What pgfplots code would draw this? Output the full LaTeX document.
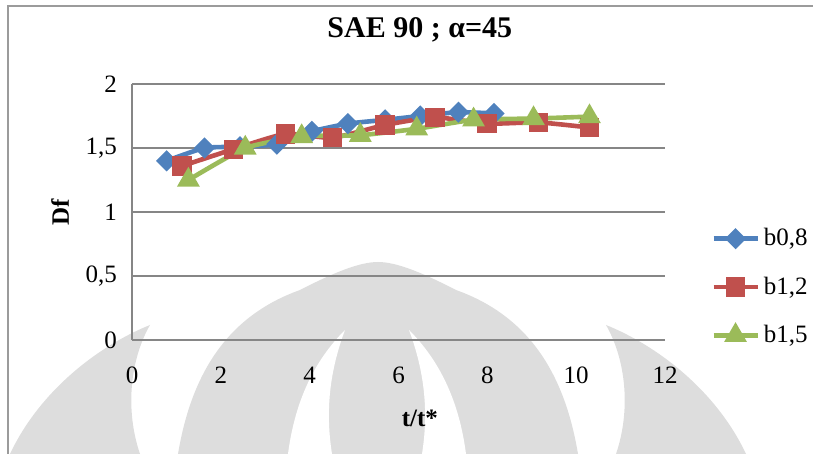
\documentclass[border=0pt]{standalone}
\usepackage{fontspec}
\setmainfont{Liberation Serif}
\usepackage{pgfplots}
\pgfplotsset{compat=1.18}

\definecolor{serA}{HTML}{4F81BD}
\definecolor{serB}{HTML}{C0504D}
\definecolor{serC}{HTML}{9BBB59}
\definecolor{gridgray}{RGB}{134,134,134}
\definecolor{framegray}{RGB}{155,155,155}
\definecolor{markgray}{RGB}{221,221,221}

\newcommand\lblfont{\fontsize{12.5}{14}\selectfont}

\begin{document}
\begin{tikzpicture}
\useasboundingbox (0,0) rectangle (406.5pt,227pt);
% faint emblem in the background
\begin{scope}[x=0.5pt, y=-0.5pt, shift={(0pt,227pt)}]
  \fill[markgray] (178,454) .. controls (192,370) and (230,315) .. (300,290)
        .. controls (335,272) and (360,262) .. (378,262)
        .. controls (396,262) and (421,272) .. (456,290)
        .. controls (526,315) and (564,370) .. (578,454) -- cycle;
  \fill[white] (288,454) .. controls (295,400) and (315,360) .. (345,330)
        .. controls (330,370) and (325,410) .. (332,454) -- cycle;
  \fill[white] (466,454) .. controls (459,400) and (439,360) .. (409,330)
        .. controls (424,370) and (429,410) .. (422,454) -- cycle;
  \fill[markgray] (10,454) .. controls (40,390) and (100,345) .. (150,325)
        .. controls (130,360) and (125,410) .. (140,454) -- cycle;
  \fill[markgray] (746,454) .. controls (716,390) and (656,345) .. (606,325)
        .. controls (626,360) and (631,410) .. (616,454) -- cycle;
\end{scope}
% chart frame (open to the right and bottom)
\draw[framegray, line width=0.8pt] (4pt,-20pt) -- (4pt,224pt) -- (430pt,224pt);
\begin{axis}[
  at={(66pt,57pt)}, anchor=south west,
  scale only axis, width=266.5pt, height=128pt,
  xmin=0, xmax=12, ymin=0, ymax=2,
  xtick={0,2,...,12}, ytick={0,0.5,...,2},
  axis x line*=bottom, axis y line*=left,
  axis line style={gridgray, line width=0.8pt, -},
  x axis line style={-}, y axis line style={-},
  ymajorgrids, major grid style={gridgray, line width=0.8pt},
  major tick length=0pt,
  tick label style={font=\lblfont},
  /pgf/number format/assume math mode=true,
  /pgf/number format/use comma,
  yticklabel style={xshift=-4pt},
  xticklabel style={yshift=-10pt},
  title={SAE 90 ; α=45},
  title style={font=\bfseries\fontsize{15}{17}\selectfont, at={(axis description cs:0.54,1.164)}, anchor=center},
  xlabel={t/t*},
  xlabel style={font=\bfseries\lblfont, at={(axis description cs:0.54,-0.305)}, anchor=center},
  ylabel={Df},
  ylabel style={font=\bfseries\lblfont, at={(axis description cs:-0.135,0.5)}, anchor=center},
  legend style={at={(axis description cs:1.086,0.207)}, anchor=west, draw=none, fill=none,
    inner sep=0pt, row sep=10pt, font=\lblfont, nodes={inner xsep=2pt}},
  legend cell align=left,
  legend image code/.code={\draw[mark repeat=2,mark phase=2,#1] plot coordinates {(0pt,0pt) (11pt,0pt) (22pt,0pt)};},
]
\addplot[serA, line width=2.3pt, smooth, tension=0.3, mark=square*, mark size=2.6pt, mark options={rotate=45, solid}]
  coordinates {(0.78,1.40) (1.63,1.50) (2.43,1.51) (3.26,1.53) (4.05,1.63) (4.86,1.69) (5.70,1.72) (6.49,1.75) (7.35,1.78) (8.15,1.77)};
\addlegendentry{b0,8}
\addplot[serB, line width=2.3pt, smooth, tension=0.3, mark=square*, mark size=3.7pt, mark options={solid}]
  coordinates {(1.13,1.36) (2.28,1.49) (3.45,1.61) (4.52,1.58) (5.70,1.68) (6.82,1.74) (7.99,1.69) (9.15,1.70) (10.30,1.66)};
\addlegendentry{b1,2}
\addplot[serC, line width=2.3pt, smooth, tension=0.3, mark=triangle*, mark size=4.3pt, mark options={solid}]
  coordinates {(1.27,1.25) (2.55,1.50) (3.82,1.59) (5.14,1.60) (6.41,1.65) (7.69,1.72) (9.04,1.73) (10.30,1.745)};
\addlegendentry{b1,5}
\end{axis}
\end{tikzpicture}
\end{document}
